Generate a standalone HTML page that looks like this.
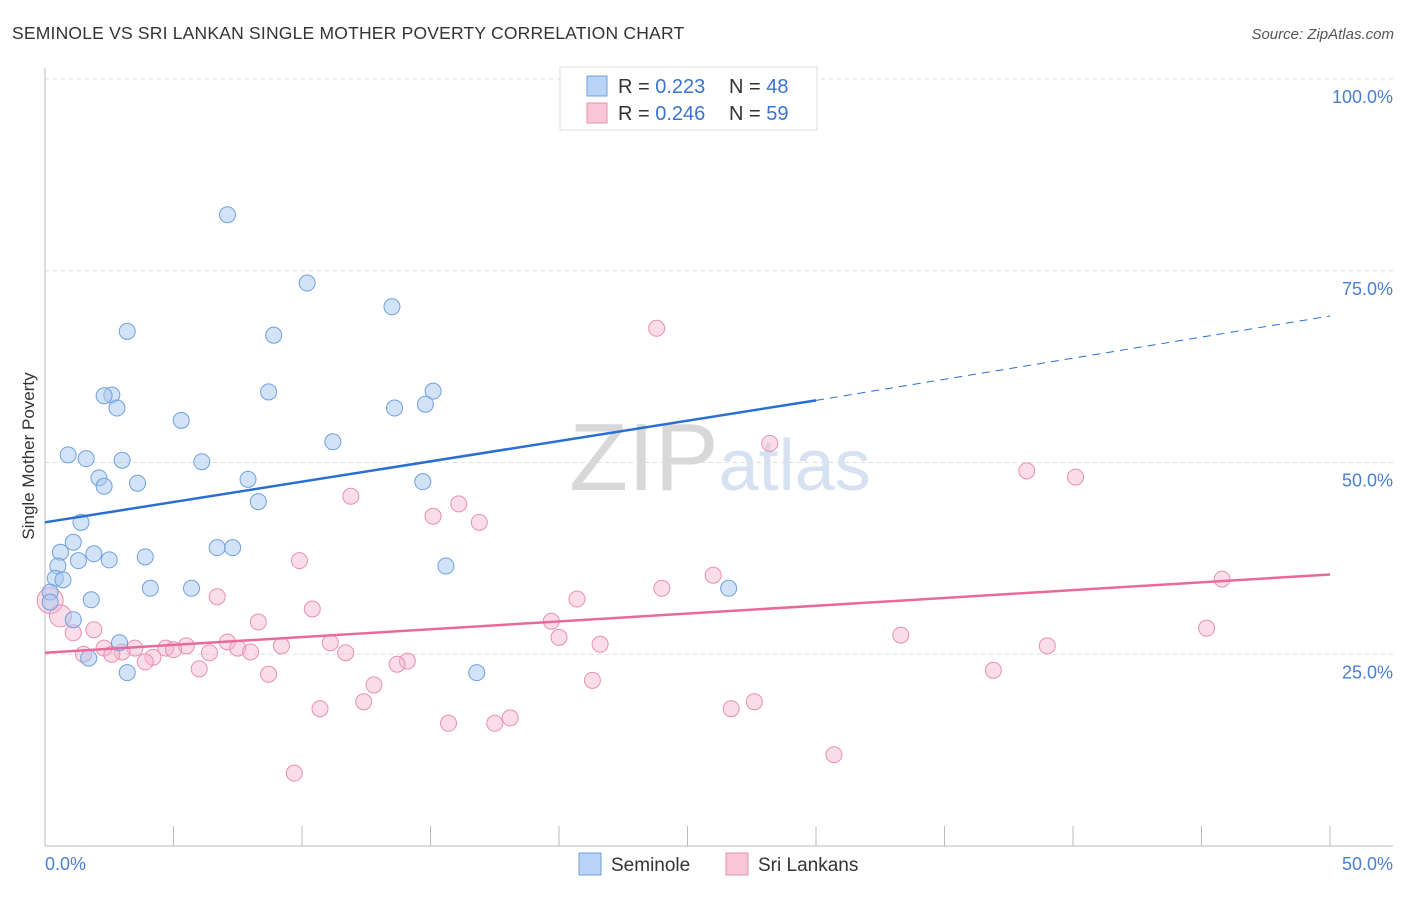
<!DOCTYPE html>
<html><head><meta charset="utf-8"><style>
body{margin:0;background:#fff;font-family:"Liberation Sans",sans-serif}
svg text{font-family:"Liberation Sans",sans-serif}
</style></head><body>
<svg id="chart" width="1406" height="892" xmlns="http://www.w3.org/2000/svg">
<text x="12" y="39" font-size="17.5" fill="#333" letter-spacing="0.2">SEMINOLE VS SRI LANKAN SINGLE MOTHER POVERTY CORRELATION CHART</text>
<text x="1394" y="39" font-size="15" fill="#555" text-anchor="end" font-style="italic">Source: ZipAtlas.com</text>
<text x="720" y="490" font-size="96" fill="#ddd" text-anchor="middle" font-family="Liberation Serif"><tspan fill="#d8d8d8">ZIP</tspan><tspan fill="#d6e2f2" font-family="Liberation Sans" font-size="72">atlas</tspan></text>
<g id="grid"></g><g id="axes"></g><g id="marks"></g>
<text transform="translate(34,456) rotate(-90)" font-size="17" fill="#333" text-anchor="middle">Single Mother Poverty</text>
<g>
<rect x="560" y="67" width="257" height="63" fill="#fff" stroke="#ddd"/>
<rect x="587" y="76" width="20" height="20" fill="#b8d3f5" stroke="#6fa0dc"/>
<text x="618" y="93" font-size="20" fill="#333">R = <tspan fill="#3a74d0">0.223</tspan></text>
<text x="729" y="93" font-size="20" fill="#333">N = <tspan fill="#3a74d0">48</tspan></text>
<rect x="587" y="103" width="20" height="20" fill="#f8c6d6" stroke="#e890b0"/>
<text x="618" y="120" font-size="20" fill="#333">R = <tspan fill="#3a74d0">0.246</tspan></text>
<text x="729" y="120" font-size="20" fill="#333">N = <tspan fill="#3a74d0">59</tspan></text>
</g>
<g>
<rect x="579" y="853" width="22" height="22" fill="#b8d3f5" stroke="#6fa0dc"/>
<text x="611" y="871" font-size="19" fill="#333">Seminole</text>
<rect x="726" y="853" width="22" height="22" fill="#f8c6d6" stroke="#e890b0"/>
<text x="758" y="871" font-size="19" fill="#333">Sri Lankans</text>
</g>
</svg>
<script>
const blueX=[7.1,10.2,13.5,3.2,8.9,15.1,2.6,8.7,2.3,2.8,14.8,13.6,5.3,11.2,0.9,1.6,3.0,6.1,2.1,2.3,3.6,7.9,14.7,8.3,1.4,1.1,0.6,6.7,7.3,1.9,2.5,3.9,1.3,0.5,15.6,0.4,0.7,4.1,5.7,0.2,1.8,0.2,26.6,1.1,2.9,1.7,3.2,16.8];
const blueY=[82.3,73.4,70.3,67.1,66.6,59.3,58.8,59.2,58.7,57.1,57.6,57.1,55.5,52.7,51.0,50.5,50.3,50.1,48.0,46.9,47.3,47.8,47.5,44.9,42.2,39.6,38.3,38.9,38.9,38.1,37.3,37.7,37.2,36.5,36.5,34.9,34.7,33.6,33.6,33.1,32.1,31.8,33.6,29.5,26.5,24.5,22.6,22.6];
const pinkX=[23.8,28.2,38.2,40.1,11.9,16.1,15.1,16.9,9.9,26.0,24.0,45.8,6.7,20.7,10.4,19.7,8.3,45.2,1.9,1.1,20.0,33.3,7.1,11.1,21.6,9.2,39.0,5.5,4.7,3.5,2.3,5.0,7.5,3.0,1.5,2.6,6.4,8.0,11.7,4.2,3.9,14.1,13.7,6.0,8.7,36.9,21.3,12.8,12.4,27.6,26.7,10.7,18.1,15.7,17.5,30.7,9.7,0.2,0.6];
const pinkY=[67.5,52.5,48.9,48.1,45.6,44.6,43.0,42.2,37.2,35.3,33.6,34.8,32.5,32.2,30.9,29.3,29.2,28.4,28.2,27.8,27.2,27.5,26.6,26.5,26.3,26.1,26.1,26.1,25.8,25.8,25.8,25.6,25.8,25.3,25.0,25.0,25.2,25.3,25.2,24.6,24.0,24.1,23.7,23.1,22.4,22.9,21.6,21.0,18.8,18.8,17.9,17.9,16.7,16.0,16.0,11.9,9.5,32.0,30.0];
const pinkR=[];pinkR[57]=13;pinkR[58]=11;
const blueTrend=[42.2,58.1,69.1]; // at x=0,30,50
const pinkTrend=[25.2,35.4]; // at x=0,50
const yTicks=[25,50,75,100];
const xTickLabels=["0.0%","50.0%"];
const NS="http://www.w3.org/2000/svg";
const X=v=>45+v*25.7, Y=v=>846-v*7.67;
function mk(p,t,a){const e=document.createElementNS(NS,t);for(const k in a)e.setAttribute(k,a[k]);p.appendChild(e);return e;}
const grid=document.getElementById('grid'),axes=document.getElementById('axes'),marks=document.getElementById('marks');
yTicks.forEach(t=>{const l=mk(grid,'line',{x1:45,x2:1393,y1:Y(t),y2:Y(t),stroke:'#ddd','stroke-dasharray':'4,4'});


const tx=mk(axes,'text',{x:1393,y:Y(t)+24,'font-size':18,fill:'#4a7fd0','text-anchor':'end'});tx.textContent=t.toFixed(1)+'%';

});
mk(axes,'line',{x1:45,x2:45,y1:68,y2:846,stroke:'#bbb'});
mk(axes,'line',{x1:45,x2:1393,y1:846,y2:846,stroke:'#bbb'});
for(let i=0;i<=10;i++){const t=mk(axes,'line',{x1:X(i*5),x2:X(i*5),y1:826,y2:846,stroke:'#bbb'});

}
[[0,'start',45],[50,'end',1393]].forEach((d,i)=>{const t=mk(axes,'text',{x:d[2],y:870,'font-size':18,fill:'#4a7fd0','text-anchor':d[1]});t.textContent=xTickLabels[i];

});
pinkX.forEach((v,i)=>{const c=mk(marks,'circle',{cx:X(v),cy:Y(pinkY[i]),r:pinkR[i]||8,fill:'rgba(245,180,204,0.45)',stroke:'#e890b0','stroke-width':1});

});
blueX.forEach((v,i)=>{const c=mk(marks,'circle',{cx:X(v),cy:Y(blueY[i]),r:8,fill:'rgba(168,200,240,0.5)',stroke:'#6fa0dc','stroke-width':1});

});
let l1=mk(marks,'line',{x1:X(0),y1:Y(blueTrend[0]),x2:X(30),y2:Y(blueTrend[1]),stroke:'#2a6fd0','stroke-width':2.5});


let l2=mk(marks,'line',{x1:X(30),y1:Y(blueTrend[1]),x2:X(50),y2:Y(blueTrend[2]),stroke:'#2a6fd0','stroke-width':1,'stroke-dasharray':'8,6'});


let l3=mk(marks,'line',{x1:X(0),y1:Y(pinkTrend[0]),x2:X(50),y2:Y(pinkTrend[1]),stroke:'#e86a9a','stroke-width':2.5});


</script>
</body></html>
